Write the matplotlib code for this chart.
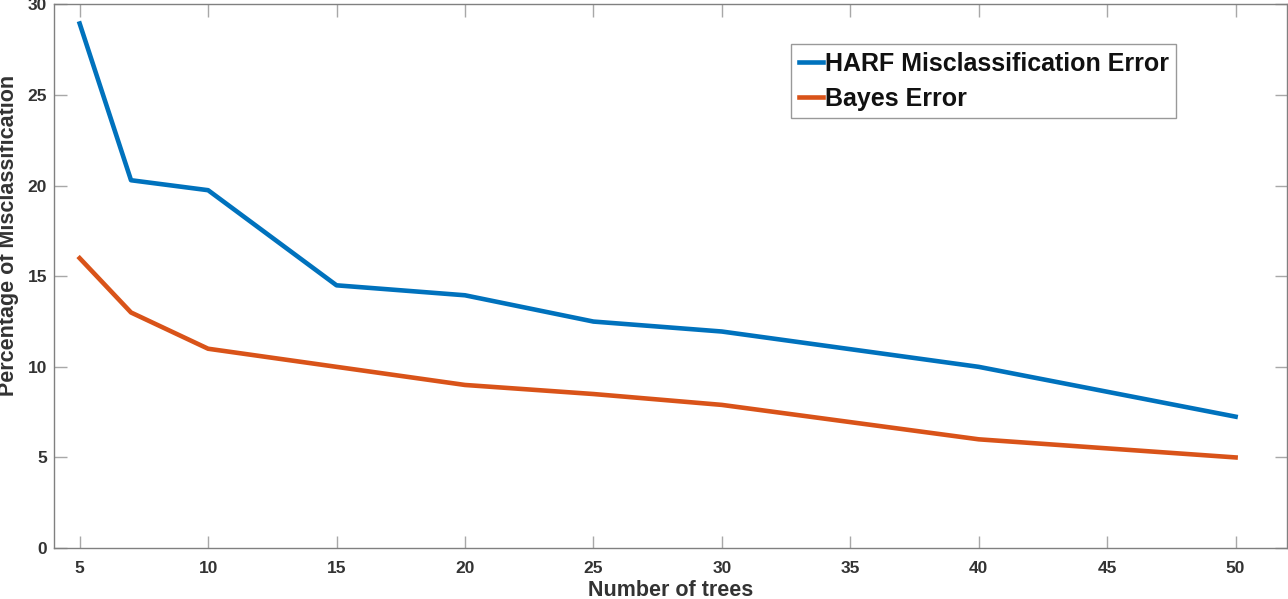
import matplotlib
matplotlib.use("Agg")
import matplotlib.pyplot as plt

# Data
trees = [5, 7, 10, 15, 20, 25, 30, 40, 50]
harf_error = [28.95, 20.3, 19.75, 14.5, 13.95, 12.5, 11.95, 10.0, 7.25]
bayes_error = [16.0, 13.0, 11.0, 10.0, 9.0, 8.5, 7.9, 6.0, 5.0]
x_ticks = [5, 10, 15, 20, 25, 30, 35, 40, 45, 50]
y_ticks = [0, 5, 10, 15, 20, 25, 30]

plt.rcParams['font.family'] = ['Liberation Sans', 'DejaVu Sans']
plt.rcParams['font.weight'] = 'bold'

fig = plt.figure(figsize=(12.88, 5.99), dpi=100)
ax = fig.add_axes([0.0419, 0.0851, 0.9573, 0.9074])

# Plot both error curves with MATLAB default colors
ax.plot(trees, harf_error, color='#0072BD', linewidth=3.3, label='HARF Misclassification Error')
ax.plot(trees, bayes_error, color='#D95319', linewidth=3.3, label='Bayes Error')

# Axis limits and ticks
ax.set_xlim(4, 52)
ax.set_ylim(0, 30)
ax.set_xticks(x_ticks)
ax.set_yticks(y_ticks)
ax.tick_params(direction='in', length=9, width=1, color='#a8a8a8',
               labelsize=12.5, labelcolor='#333333', top=True, right=True,
               labeltop=False, labelright=False)
ax.tick_params(axis='x', pad=9)
ax.tick_params(axis='y', pad=5)
for spine in ax.spines.values():
    spine.set_color('#808080')
    spine.set_linewidth(1)

# Axis labels
ax.set_xlabel('Number of trees', fontsize=15.5, fontweight='bold', color='#333333')
ax.xaxis.set_label_coords(0.5, -0.079)
ax.xaxis.label.set_va('center')
ax.set_ylabel('Percentage of Misclassification', fontsize=15.5, fontweight='bold', color='#333333')
ax.yaxis.set_label_coords(-0.0365, 0.575)
ax.yaxis.label.set_va('center')

# Legend box in the upper right area
leg = ax.legend(loc='upper left', bbox_to_anchor=(0.598, 0.927), fontsize=18,
                frameon=True, fancybox=False, borderaxespad=0, borderpad=0.3,
                handlelength=0.95, handletextpad=0.08, labelspacing=0.45)
leg.get_frame().set_edgecolor('#808080')
leg.get_frame().set_linewidth(1)
for text in leg.get_texts():
    text.set_fontweight('bold')
    text.set_color('#111111')

fig.savefig('out.png', dpi=100)
